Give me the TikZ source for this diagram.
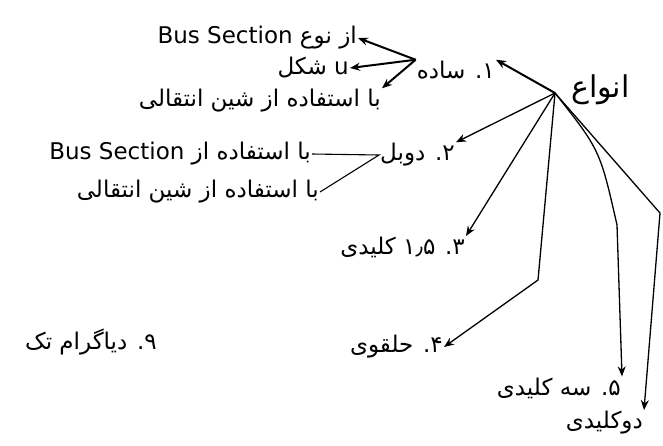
\documentclass[tikz,border=0pt]{standalone}
\usepackage{fontspec}
\newfontfamily\fafont[Script=Arabic]{DejaVu Sans}
\TeXXeTstate=1
\usetikzlibrary{arrows.meta}
\newcommand{\fatext}[1]{\beginR #1\endR}
\tikzset{
  fa/.style={font=\fafont\fontsize{23}{26}\selectfont, inner sep=1pt},
  arr/.style={-{Stealth[length=10pt,width=8pt]}, line width=1.3pt},
  thickarr/.style={arr, line width=2pt},
}
\begin{document}
\begin{tikzpicture}[x=1pt,y=-1pt]
\useasboundingbox (0,0) rectangle (663,445);
% root
\node[fa, font=\fafont\fontsize{30}{34}\selectfont, anchor=west] (root) at (570,90) {\fatext{انواع}};
\coordinate (hub) at (555,93);

% 1. simple
\node[fa, anchor=east] (sade) at (496,70) {\fatext{۱. ساده}};
\node[fa, anchor=east] (busA) at (358,38) {\fatext{از نوع \beginL Bus Section\endL}};
\node[fa, anchor=east] (ushape) at (350,68) {\fatext{u شکل}};
\node[fa, anchor=east] (sinA) at (382,101) {\fatext{با استفاده از شین انتقالی}};
\draw[thickarr] (hub) -- (sade.north east);
\draw[thickarr] (sade.north west) -- (busA.east);
\draw[thickarr] (sade.north west) -- (ushape.east);
\draw[thickarr] (sade.north west) -- (sinA.north east);

% 2. double
\node[fa, anchor=east] (double) at (456,155) {\fatext{۲. دوبل}};
\node[fa, anchor=east] (busB) at (312,154) {\fatext{با استفاده از \beginL Bus Section\endL}};
\node[fa, anchor=east] (sinB) at (320,192) {\fatext{با استفاده از شین انتقالی}};
\draw[arr] (hub) -- (double.north east);
\draw[line width=1.1pt] (busB.east) -- (double.west) -- (sinB.east);

% 3. to 5.
\node[fa, anchor=north east] (onehalf) at (466,236) {\fatext{۳. ۱٫۵ کلیدی}};
\node[fa, anchor=east] (ring) at (444,347) {\fatext{۴. حلقوی}};
\node[fa, anchor=east] (three) at (622,388) {\fatext{۵. سه کلیدی}};
\node[fa, anchor=north east] (two) at (644,410) {\fatext{دوکلیدی}};
\draw[arr] (hub) -- (onehalf.north east);
\draw[arr] (hub) -- (538,280) -- (ring.east);
\draw[arr] (hub) .. controls (600,150) .. (617,225) -- (three.north east);
\draw[arr] (hub) -- (660,213) -- (two.north east);

% 9.
\node[fa, anchor=east] (diag) at (158,342) {\fatext{۹. دیاگرام تک}};
\end{tikzpicture}
\end{document}
